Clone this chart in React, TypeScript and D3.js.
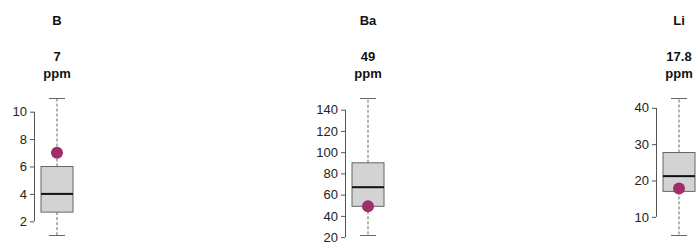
import React, { useEffect, useRef } from 'react';
import * as d3 from 'd3';

// element names, reported value and units
const elements = ['B', 'Ba', 'Li'];
const samples = ['7', '49', '17.8'];
const units = ['ppm', 'ppm', 'ppm'];
const sampleValues = [7, 49, 17.8];

// boxplot stats: whisker low, q1, median, q3, whisker high
const whiskerLow = [1, 22, 5];
const q1 = [2.67, 49, 17];
const median = [4, 67, 21.2];
const q3 = [6, 90, 27.7];
const whiskerHigh = [11, 151, 42.7];

const tickValues = [
  [2, 4, 6, 8, 10],
  [20, 40, 60, 80, 100, 120, 140],
  [10, 20, 30, 40],
];

const width = 696;
const height = 244;

export default function App() {
  const svgRef = useRef<SVGSVGElement>(null);

  useEffect(() => {
    const svg = d3.select(svgRef.current);
    svg.selectAll('*').remove();

    const xPos = d3.scaleLinear().domain([0, 1]).range([57, 368]);
    const boxHalf = 16;
    const capHalf = 8;
    const axisOffset = 23;

    elements.forEach((el, i) => {
      const cx = xPos(i);
      const y = d3.scaleLinear().domain([whiskerLow[i], whiskerHigh[i]]).range([235, 98]);
      const g = svg.append('g');

      const label = (txt: string, yy: number) =>
        g.append('text')
          .attr('x', cx).attr('y', yy)
          .attr('text-anchor', 'middle')
          .attr('font-weight', 'bold').attr('font-size', 13)
          .attr('fill', '#111')
          .text(txt);
      label(el, 25);
      label(samples[i], 61);
      label(units[i], 78);

      // y axis
      const axis = d3.axisLeft(y).tickValues(tickValues[i]).tickSize(4).tickSizeOuter(0).tickPadding(3);
      const ag = g.append('g')
        .attr('transform', `translate(${cx - axisOffset},0)`)
        .call(axis);
      ag.select('.domain').remove();
      const ticks = tickValues[i];
      ag.append('line')
        .attr('x1', 0.5).attr('x2', 0.5)
        .attr('y1', y(ticks[0])).attr('y2', y(ticks[ticks.length - 1]))
        .attr('stroke', '#555');
      ag.selectAll('.tick line').attr('stroke', '#555');
      ag.selectAll('.tick text')
        .attr('font-size', 13)
        .attr('font-family', 'Liberation Sans, Arial, sans-serif')
        .attr('fill', '#222');

      // whiskers
      g.append('line')
        .attr('x1', cx).attr('x2', cx)
        .attr('y1', y(q3[i])).attr('y2', y(whiskerHigh[i]))
        .attr('stroke', '#666').attr('stroke-dasharray', '3,2');
      g.append('line')
        .attr('x1', cx).attr('x2', cx)
        .attr('y1', y(q1[i])).attr('y2', y(whiskerLow[i]))
        .attr('stroke', '#666').attr('stroke-dasharray', '3,2');
      [whiskerHigh[i], whiskerLow[i]].forEach(v => {
        g.append('line')
          .attr('x1', cx - capHalf).attr('x2', cx + capHalf)
          .attr('y1', Math.round(y(v)) + 0.5).attr('y2', Math.round(y(v)) + 0.5)
          .attr('stroke', '#666');
      });

      // box
      g.append('rect')
        .attr('x', cx - boxHalf).attr('width', boxHalf * 2)
        .attr('y', y(q3[i])).attr('height', y(q1[i]) - y(q3[i]))
        .attr('fill', '#d3d3d3').attr('stroke', '#666');
      g.append('line')
        .attr('x1', cx - boxHalf).attr('x2', cx + boxHalf)
        .attr('y1', y(median[i])).attr('y2', y(median[i]))
        .attr('stroke', '#111').attr('stroke-width', 2);

      // sample point
      g.append('circle')
        .attr('cx', cx).attr('cy', y(sampleValues[i]))
        .attr('r', 6)
        .attr('fill', '#9e2f68');
    });
  }, []);

  return (
    <svg
      ref={svgRef}
      width={width}
      height={height}
      style={{ position: 'absolute', left: 0, top: 0, fontFamily: 'Liberation Sans, Arial, sans-serif' }}
    />
  );
}
